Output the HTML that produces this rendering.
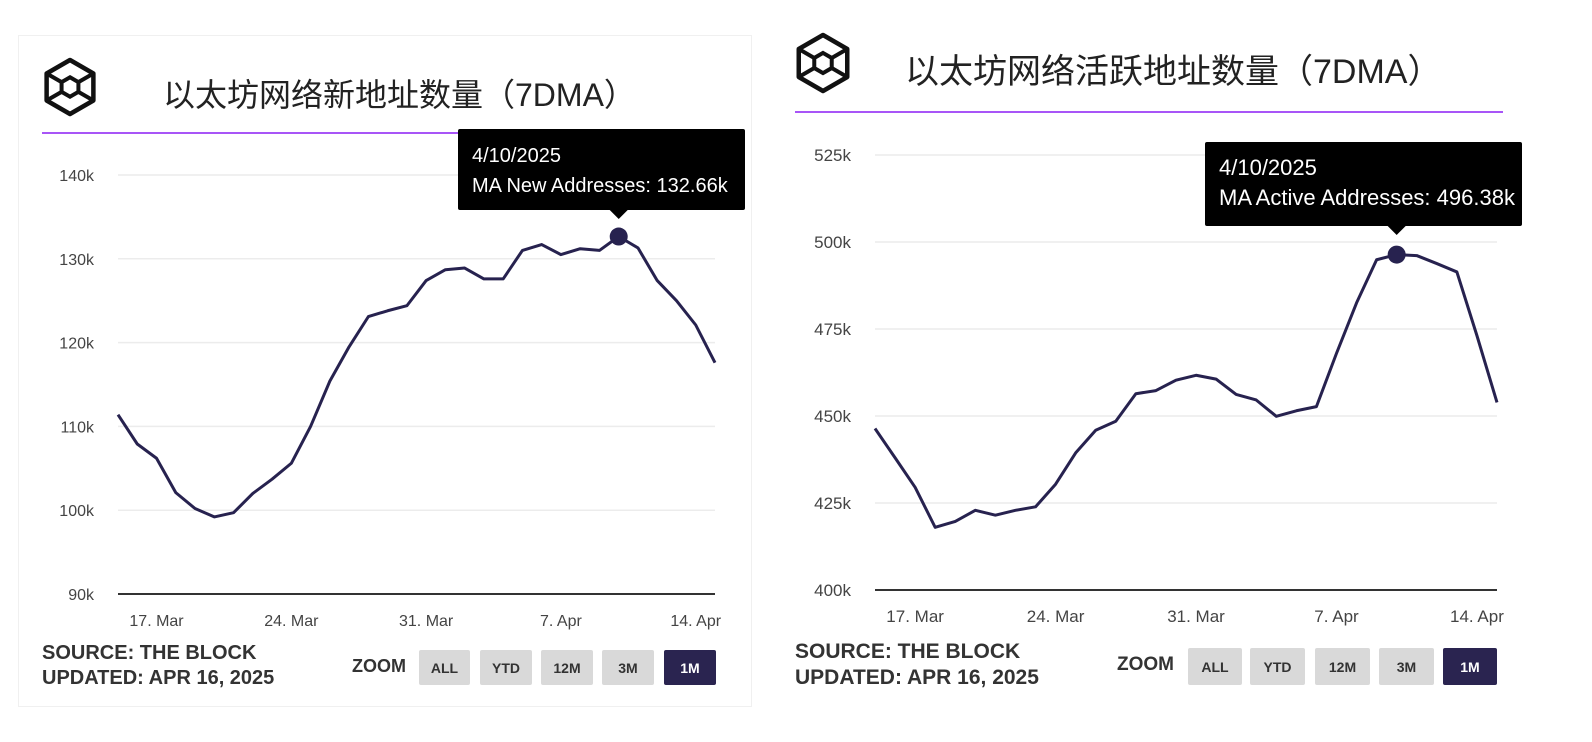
<!DOCTYPE html>
<html><head><meta charset="utf-8">
<style>
body{margin:0;width:1592px;height:742px;background:#fff;position:relative;overflow:hidden;font-family:"Liberation Sans","Noto Sans CJK SC",sans-serif;}
.abs{position:absolute;}
.title{color:#222;font-family:"Liberation Sans","Noto Sans CJK SC",sans-serif;white-space:nowrap;}
.src{font-weight:bold;color:#333;}
.zoom{font-weight:bold;color:#333;}
.btn{position:absolute;height:35px;background:#d9d9d9;color:#333;font-size:14px;font-weight:bold;display:flex;align-items:center;justify-content:center;border-radius:2px;}
.btn.on{background:#2a2450;color:#fff;}
</style></head><body>
<div class="abs" style="left:18px;top:35px;width:732px;height:670px;border:1px solid #f0f0f0;"></div>
<svg id="chart" class="abs" style="left:0;top:0" width="1592" height="742"></svg>
<div class="abs title" style="left:163px;top:70px;font-size:32px;">以太坊网络新地址数量（7DMA）</div>
<div class="abs title" style="left:905px;top:44px;font-size:34px;">以太坊网络活跃地址数量（7DMA）</div>
<div class="abs src" style="left:42px;top:641px;font-size:20px;line-height:25px;">SOURCE: THE BLOCK<br>UPDATED: APR 16, 2025</div>
<div class="abs src" style="left:795px;top:639px;font-size:21px;line-height:26px;">SOURCE: THE BLOCK<br>UPDATED: APR 16, 2025</div>
<div class="abs zoom" style="left:352px;top:656px;font-size:18px;">ZOOM</div>
<div class="abs zoom" style="left:1117px;top:654px;font-size:19px;">ZOOM</div>
<div class="btn" style="left:419px;top:650px;width:51px;">ALL</div>
<div class="btn" style="left:480px;top:650px;width:52px;">YTD</div>
<div class="btn" style="left:541px;top:650px;width:52px;">12M</div>
<div class="btn" style="left:602px;top:650px;width:52px;">3M</div>
<div class="btn on" style="left:664px;top:650px;width:52px;">1M</div>
<div class="btn" style="left:1188px;top:648px;width:54px;height:37px;">ALL</div>
<div class="btn" style="left:1250px;top:648px;width:55px;height:37px;">YTD</div>
<div class="btn" style="left:1315px;top:648px;width:55px;height:37px;">12M</div>
<div class="btn" style="left:1379px;top:648px;width:55px;height:37px;">3M</div>
<div class="btn on" style="left:1443px;top:648px;width:54px;height:37px;">1M</div>
<script>
const newAddr=[111.4,107.9,106.2,102.1,100.2,99.2,99.7,102.0,103.7,105.6,110.0,115.4,119.5,123.1,123.8,124.4,127.4,128.7,128.9,127.6,127.6,131.0,131.7,130.5,131.2,131.0,132.66,131.3,127.4,125.0,122.1,117.6];
const activeAddr=[446.4,438.0,429.5,418.0,419.7,422.9,421.5,422.9,423.9,430.4,439.4,445.9,448.5,456.4,457.3,460.3,461.7,460.6,456.2,454.6,449.9,451.5,452.7,468.0,482.5,494.9,496.38,496.1,493.8,491.4,473.1,453.9];
const leftTicks=[90,100,110,120,130,140];
const rightTicks=[400,425,450,475,500,525];
const xLabels=["17. Mar","24. Mar","31. Mar","7. Apr","14. Apr"];
const xLabelIdx=[2,9,16,23,30];
const hoverIdx=26;
const hoverDate="4/10/2025";
const NS="http://www.w3.org/2000/svg";
const svg=document.getElementById('chart');
function mk(t,a,name){const e=document.createElementNS(NS,t);for(const k in a)e.setAttribute(k,a[k]);


svg.appendChild(e);return e;}
function logo(cx,cy,r,name){
 const pts=[];const ip=[];
 for(let i=0;i<6;i++){const a=Math.PI/180*(60*i-90);pts.push([cx+r*Math.cos(a),cy+r*Math.sin(a)]);ip.push([cx+r*0.36*Math.cos(a),cy+r*0.36*Math.sin(a)]);}
 mk('polygon',{points:pts.map(p=>p.join(',')).join(' '),fill:'none',stroke:'#111','stroke-width':4.5,'stroke-linejoin':'round'},name+'-outer');
 mk('polygon',{points:ip.map(p=>p.join(',')).join(' '),fill:'none',stroke:'#111','stroke-width':4},name+'-inner');
 [1,2,4,5].forEach(i=>mk('line',{x1:ip[i][0],y1:ip[i][1],x2:pts[i][0],y2:pts[i][1],stroke:'#111','stroke-width':4},name+'-spoke'));
}
function chart(o){
 const n=o.data.length;
 const X=i=>o.x0+(o.x1-o.x0)*i/(n-1);
 const Y=v=>o.y0+(o.y1-o.y0)*(v-o.t[0])/(o.t[o.t.length-1]-o.t[0]);
 o.t.forEach((t,i)=>{
  mk('line',{x1:o.x0,x2:o.x1,y1:Y(t),y2:Y(t),stroke:i==0?'#333':'#ececec','stroke-width':i==0?2:1.5},o.p+'-gridline');
  const tx=mk('text',{x:o.x0-24,y:Y(t)+6,'text-anchor':'end','font-size':o.fs,fill:'#444','font-family':'Liberation Sans, sans-serif'},o.p+'-y-tick');tx.textContent=t+'k';
 });
 xLabels.forEach((l,i)=>{const tx=mk('text',{x:X(xLabelIdx[i]),y:o.xl,'text-anchor':'middle','font-size':o.fs,fill:'#444','font-family':'Liberation Sans, sans-serif'},o.p+'-x-tick');tx.textContent=l;});
 mk('polyline',{points:o.data.map((v,i)=>X(i)+','+Y(v)).join(' '),fill:'none',stroke:'#27224f','stroke-width':3,'stroke-linejoin':'round'},o.p+'-line');
 const hx=X(hoverIdx),hy=Y(o.data[hoverIdx]);
 mk('circle',{cx:hx,cy:hy,r:9,fill:'#27224f'},o.p+'-hover-point');
 mk('rect',{x:o.tt[0],y:o.tt[1],width:o.tt[2],height:o.tt[3],fill:'#000',rx:2},o.p+'-tooltip');
 const by=o.tt[1]+o.tt[3];
 mk('polygon',{points:(hx-9)+','+by+' '+(hx+9)+','+by+' '+hx+','+(by+9)},o.p+'-tooltip-arrow');
 const t1=mk('text',{x:o.tt[0]+14,y:o.tt[1]+33,'font-size':o.tfs,fill:'#fff','font-family':'Liberation Sans, sans-serif'},o.p+'-tooltip-date');t1.textContent=hoverDate;
 const t2=mk('text',{x:o.tt[0]+14,y:o.tt[1]+63,'font-size':o.tfs,fill:'#fff','font-family':'Liberation Sans, sans-serif'},o.p+'-tooltip-value');t2.textContent=o.label+': '+o.data[hoverIdx]+'k';
}
mk('line',{x1:42,x2:715,y1:133,y2:133,stroke:'#a855f7','stroke-width':2},'left-title-underline');
mk('line',{x1:795,x2:1503,y1:112,y2:112,stroke:'#a855f7','stroke-width':2},'right-title-underline');
logo(70,87,27,'left-logo');
logo(823,63,28,'right-logo');
chart({p:'left',data:newAddr,t:leftTicks,x0:118,x1:715,y0:594,y1:175,xl:626,tt:[458,129,287,81],label:'MA New Addresses',fs:16,tfs:20});
chart({p:'right',data:activeAddr,t:rightTicks,x0:875,x1:1497,y0:590,y1:155,xl:622,tt:[1205,142,317,84],label:'MA Active Addresses',fs:17,tfs:22});
</script>
</body></html>
